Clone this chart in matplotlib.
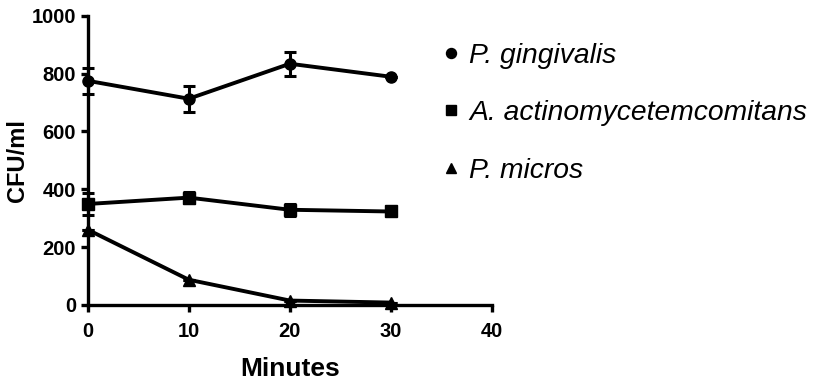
import numpy as np
import matplotlib
matplotlib.use("Agg")
import matplotlib.pyplot as plt

plt.rcParams["font.family"] = ["Liberation Sans", "DejaVu Sans"]

# dados
minutos = [0, 10, 20, 30]

pg_media = [775, 713, 834, 789]
pg_erro = [45, 45, 42, 0]

aa_media = [349, 371, 329, 323]
aa_erro = [37, 18, 20, 0]

pm_media = [260, 87, 15, 8]
pm_erro = [0, 0, 0, 0]

series = [
    ("P. gingivalis", pg_media, pg_erro, "o"),
    ("A. actinomycetemcomitans", aa_media, aa_erro, "s"),
    ("P. micros", pm_media, pm_erro, "^"),
]

fig = plt.figure(figsize=(8.13, 3.84), dpi=100)
ax = fig.add_axes([0.108, 0.206, 0.497, 0.753])

for nome, media, erro, mk in series:
    ax.errorbar(minutos, media, yerr=erro, color="black", linewidth=2.8,
                marker=mk, markersize=8, elinewidth=2.2, capsize=4.5,
                capthick=2.2, label=nome, clip_on=False, zorder=3)

ax.set_xlim(0, 40)
ax.set_ylim(0, 1000)
ax.set_xticks([0, 10, 20, 30, 40])
ax.set_yticks([0, 200, 400, 600, 800, 1000])

for lado in ["top", "right"]:
    ax.spines[lado].set_visible(False)
for lado in ["left", "bottom"]:
    ax.spines[lado].set_linewidth(2.4)
ax.tick_params(width=2.4, length=5, labelsize=14.5)
ax.tick_params(axis="x", pad=7)
for lbl in ax.get_xticklabels() + ax.get_yticklabels():
    lbl.set_fontweight("bold")

ax.set_xlabel("Minutes", fontsize=19, fontweight="bold", labelpad=12)
ax.set_ylabel("CFU/ml", fontsize=17, fontweight="bold", labelpad=2)

handles, labels = ax.get_legend_handles_labels()
handles = [h[0] for h in handles]
leg = fig.legend(handles, labels, loc="upper left",
                 bbox_to_anchor=(0.513, 0.955), frameon=False,
                 prop={"style": "italic", "size": 20.3},
                 handlelength=0.6, handletextpad=0.35, labelspacing=1.12,
                 markerscale=0.9)
for h in leg.legend_handles:
    h.set_linestyle("none")

fig.savefig("out.png", dpi=100)
